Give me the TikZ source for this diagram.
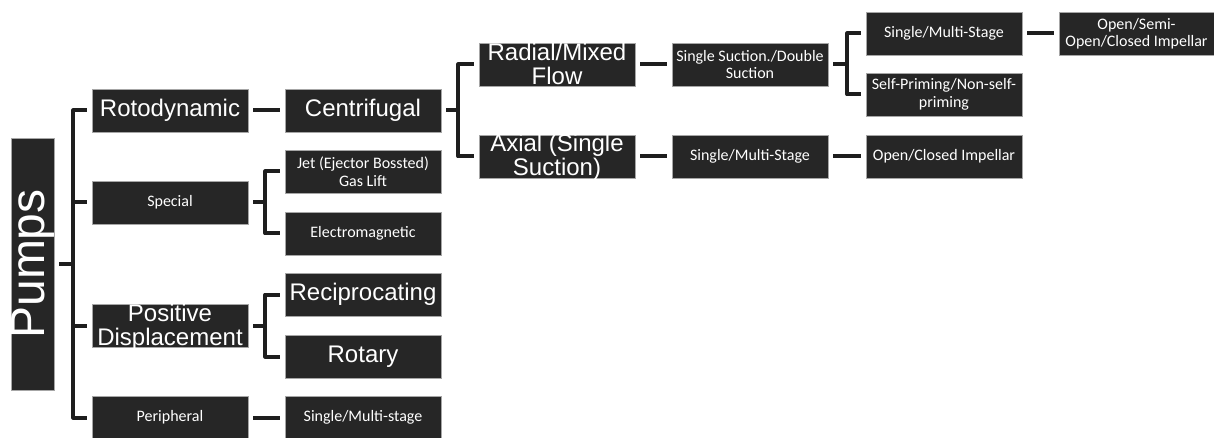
\documentclass[tikz,border=0pt]{standalone}
\usepackage{fontspec}
\setmainfont{Liberation Sans}
\newfontfamily\calfont{Carlito}
\definecolor{boxfill}{HTML}{262626}
\definecolor{boxedge}{HTML}{A6A6A6}
\definecolor{linec}{HTML}{1E1E1E}
\tikzset{
  pbox/.style={draw=boxedge, line width=0.6pt, fill=boxfill, minimum width=156pt, minimum height=43pt, inner sep=0pt},
  bigtxt/.style={text=white, font=\fontsize{24}{24}\selectfont, align=center, inner sep=0pt},
  smalltxt/.style={text=white, font=\calfont\fontsize{16}{17.5}\selectfont, align=center, inner sep=0pt},
  conn/.style={draw=linec, line width=4pt, line join=round}
}
\begin{document}
\begin{tikzpicture}[x=1pt,y=-1pt]
\useasboundingbox (0,0) rectangle (1214,438);
% boxes
\node[pbox, minimum width=43pt, minimum height=252pt] (pumps) at (32.5,264) {};
\node[pbox] (roto) at (170,110.5) {};
\node[pbox] (special) at (170,202.5) {};
\node[pbox] (pd) at (170,325.5) {};
\node[pbox] (peri) at (170,417.5) {};
\node[pbox] (centri) at (363,110.5) {};
\node[pbox] (jet) at (363,171.5) {};
\node[pbox] (electro) at (363,233.5) {};
\node[pbox] (recip) at (363,294.5) {};
\node[pbox] (rotary) at (363,356.5) {};
\node[pbox] (sms) at (363,417.5) {};
\node[pbox] (radial) at (557,64.5) {};
\node[pbox] (axial) at (557,156.5) {};
\node[pbox] (ssuct) at (750,64.5) {};
\node[pbox] (smsb) at (750,156.5) {};
\node[pbox] (smsa) at (944,33.5) {};
\node[pbox] (selfp) at (944,94.5) {};
\node[pbox] (ocimp) at (944,156.5) {};
\node[pbox, minimum width=155pt] (osc) at (1136.5,33.5) {};
% texts
\node[bigtxt, font=\fontsize{48}{48}\selectfont, rotate=90] (pumps-t) at (pumps) {Pumps};
\node[bigtxt] (roto-t) at (roto) {Rotodynamic};
\node[smalltxt] (special-t) at (special) {Special};
\node[bigtxt] (pd-t) at ([yshift=-2pt]pd.center) {Positive\\Displacement};
\node[smalltxt] (peri-t) at (peri) {Peripheral};
\node[bigtxt] (centri-t) at (centri) {Centrifugal};
\node[smalltxt] (jet-t) at (jet) {Jet (Ejector Bossted)\\Gas Lift};
\node[smalltxt] (electro-t) at (electro) {Electromagnetic};
\node[bigtxt] (recip-t) at (recip) {Reciprocating};
\node[bigtxt] (rotary-t) at (rotary) {Rotary};
\node[smalltxt] (sms-t) at (sms) {Single/Multi-stage};
\node[bigtxt] (radial-t) at ([yshift=0.5pt]radial.center) {Radial/Mixed\\Flow};
\node[bigtxt] (axial-t) at ([yshift=-0.5pt]axial.center) {Axial (Single\\Suction)};
\node[smalltxt] (ssuct-t) at (ssuct) {Single Suction./Double\\Suction};
\node[smalltxt] (smsb-t) at (smsb) {Single/Multi-Stage};
\node[smalltxt] (smsa-t) at (smsa) {Single/Multi-Stage};
\node[smalltxt] (selfp-t) at (selfp) {Self-Priming/Non-self-\\priming};
\node[smalltxt] (ocimp-t) at (ocimp) {Open/Closed Impellar};
\node[smalltxt] (osc-t) at (osc) {Open/Semi-\\Open/Closed Impellar};
% connectors: Pumps bracket
\coordinate (pb) at ([xshift=19pt]pumps.east);
\draw[conn] ([xshift=5pt]pumps.east) -- (pb);
\draw[conn] ([xshift=-5pt]roto.west) -| (pb) |- ([xshift=-5pt]peri.west);
\draw[conn] (pb |- special.west) -- ([xshift=-5pt]special.west);
\draw[conn] (pb |- pd.west) -- ([xshift=-5pt]pd.west);
% single links
\draw[conn] ([xshift=5pt]roto.east) -- ([xshift=-5pt]centri.west);
\draw[conn] ([xshift=5pt]peri.east) -- ([xshift=-5pt]sms.west);
\draw[conn] ([xshift=5pt]radial.east) -- ([xshift=-5pt]ssuct.west);
\draw[conn] ([xshift=5pt]axial.east) -- ([xshift=-5pt]smsb.west);
\draw[conn] ([xshift=5pt]smsb.east) -- ([xshift=-5pt]ocimp.west);
\draw[conn] ([xshift=5pt]smsa.east) -- ([xshift=-5pt]osc.west);
% brackets
\coordinate (sb) at ([xshift=17pt]special.east);
\draw[conn] ([xshift=5pt]special.east) -- (sb);
\draw[conn] ([xshift=-5pt]jet.west) -| (sb) |- ([xshift=-5pt]electro.west);
\coordinate (pdb) at ([xshift=17pt]pd.east);
\draw[conn] ([xshift=5pt]pd.east) -- (pdb);
\draw[conn] ([xshift=-5pt]recip.west) -| (pdb) |- ([xshift=-5pt]rotary.west);
\coordinate (cb) at ([xshift=17pt]centri.east);
\draw[conn] ([xshift=5pt]centri.east) -- (cb);
\draw[conn] ([xshift=-5pt]radial.west) -| (cb) |- ([xshift=-5pt]axial.west);
\coordinate (ssb) at ([xshift=19pt]ssuct.east);
\draw[conn] ([xshift=5pt]ssuct.east) -- (ssb);
\draw[conn] ([xshift=-5pt]smsa.west) -| (ssb) |- ([xshift=-5pt]selfp.west);
\end{tikzpicture}
\end{document}
